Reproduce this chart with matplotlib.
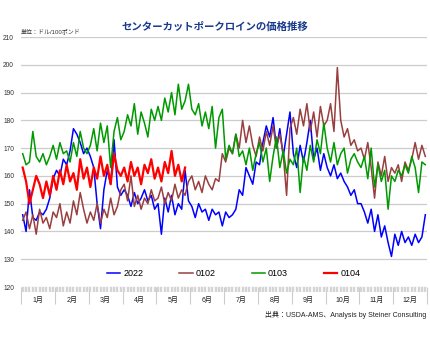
import matplotlib
matplotlib.use('Agg')
import matplotlib.pyplot as plt
import numpy as np

plt.rcParams['font.family'] = ['Liberation Sans', 'Noto Sans CJK JP', 'DejaVu Sans']

# 価格 (ドル/100ポンド)  -- 月10点ずつ
y2022 = [146, 140, 155, 145, 144, 147, 146, 148, 152, 159,
         162, 160, 166, 164, 169, 177, 175, 172, 168, 170,
         167, 163, 150, 141, 155, 162, 157, 173, 156, 153,
         155, 153, 149, 154, 150, 152, 155, 151, 153, 148,
         150, 139, 152, 147, 153, 146, 150, 148, 162, 151,
         149, 145, 150, 147, 148, 144, 148, 146, 147, 142,
         147, 145, 146, 148, 155, 153, 163, 160, 157, 165,
         164, 172, 178, 174, 181, 170, 177, 167, 175, 183,
         168, 163, 171, 165, 172, 180, 166, 170, 162, 168,
         163, 160, 164, 159, 161, 158, 156, 153, 155, 150,
         150, 147, 143, 148, 140, 146, 138, 142, 136, 131,
         139, 135, 140, 136, 138, 135, 139, 136, 138, 146]
y0102 = [144, 147, 141, 146, 139, 148, 143, 145, 141, 147,
         145, 150, 142, 147, 143, 151, 146, 154, 148, 143,
         147, 144, 150, 143, 148, 145, 152, 146, 149, 155,
         157, 151, 160, 149, 153, 148, 152, 150, 155, 151,
         152, 156, 150, 154, 151, 157, 152, 155, 153, 158,
         160, 155, 158, 154, 160, 157, 155, 159, 158, 168,
         165, 170, 168, 175, 170, 180, 172, 178, 171, 167,
         174, 169, 176, 171, 178, 170, 175, 168, 153, 177,
         181, 175, 184, 178, 186, 176, 183, 174, 185, 178,
         180, 186, 176, 199, 180, 174, 177, 171, 173, 169,
         170, 166, 172, 163, 152, 165, 160, 167, 158, 163,
         161, 164, 158, 165, 162, 166, 172, 166, 171, 167]
y0103 = [168, 164, 165, 176, 167, 165, 168, 164, 167, 171,
         166, 172, 168, 169, 165, 172, 167, 176, 170, 168,
         171, 177, 169, 179, 172, 178, 163, 176, 181, 173,
         176, 182, 178, 186, 175, 183, 179, 174, 184, 180,
         185, 180, 188, 183, 190, 182, 193, 184, 187, 193,
         184, 182, 186, 178, 183, 177, 185, 170, 181, 184,
         166, 171, 168, 175, 167, 169, 164, 170, 162, 168,
         172, 165, 170, 158, 167, 174, 163, 169, 161, 166,
         164, 170, 154, 167, 162, 171, 165, 173, 168, 179,
         170, 165, 172, 164, 168, 170, 161, 166, 168, 165,
         163, 167, 159, 170, 156, 164, 158, 162, 148, 160,
         158, 162, 160, 164, 161, 167, 163, 154, 165, 164]
y0104 = [163, 158, 150, 155, 160, 157, 152, 158, 153, 160,
         155, 162, 157, 164, 158, 161, 155, 166, 159, 163,
         156, 163, 159, 167, 160, 164, 157, 168, 162, 160,
         163, 158, 165, 160, 163, 157, 164, 161, 166, 159,
         163, 158, 165, 161, 169, 160, 164, 158, 163]

months = ['1月', '2月', '3月', '4月', '5月', '6月',
          '7月', '8月', '9月', '10月', '11月', '12月']
per_month = 10

fig = plt.figure(figsize=(4.3, 3.4), dpi=100)
ax = fig.add_axes([21/430, 1-287/340, 406/430, 250/340])

ax.plot(np.arange(len(y2022)), y2022, color='#0000ff', lw=1.1, label='2022')
ax.plot(np.arange(len(y0102)), y0102, color='#993f3f', lw=1.1, label='0102')
ax.plot(np.arange(len(y0103)), y0103, color='#009900', lw=1.1, label='0103')
ax.plot(np.arange(len(y0104)), y0104, color='#ff0000', lw=1.6, label='0104')

n = len(months) * per_month
ax.set_xlim(-0.5, n - 0.5)
ax.set_ylim(120, 210)
ax.set_yticks(range(120, 211, 10))
ax.grid(axis='y', color='#cccccc', lw=0.9)
ax.set_axisbelow(True)
for s in ax.spines.values():
    s.set_visible(False)
ax.tick_params(axis='y', length=0, pad=5, labelsize=4.8, labelcolor='#333333')

# 下の帯と月区切り
ax.set_xticks(np.arange(-0.5, n, per_month))
ax.set_xticklabels([])
ax.set_xticks(np.arange(0, n), minor=True)
ax.tick_params(axis='x', which='major', length=12, width=0.8, color='#cccccc')
ax.tick_params(axis='x', which='minor', length=3.6, width=1.7, color='#d4d4d4')
for i, m in enumerate(months):
    ax.text(i*per_month + per_month/2 - 0.5, -0.054, m, transform=ax.get_xaxis_transform(),
            ha='center', va='center', fontsize=5, color='#222222')

fig.legend(loc='center', bbox_to_anchor=(0.543, 1-274/340), ncol=4, frameon=False,
           fontsize=6.5, handlelength=1.5, handletextpad=0.3, columnspacing=4.0)

fig.text(0.5, 1-27/340, 'センターカットポークロインの価格推移', ha='center', va='center',
         fontsize=7.5, fontweight='bold', color='#1a3a8c')
fig.text(21/430, 1-31/340, '単位：ドル/100ポンド', ha='left', va='center',
         fontsize=4.3, color='#333333')
fig.text(426/430, 1-315/340, '出典：USDA-AMS、Analysis by Steiner Consulting',
         ha='right', va='center', fontsize=5, color='#222222')

fig.savefig('out.png', dpi=100)
